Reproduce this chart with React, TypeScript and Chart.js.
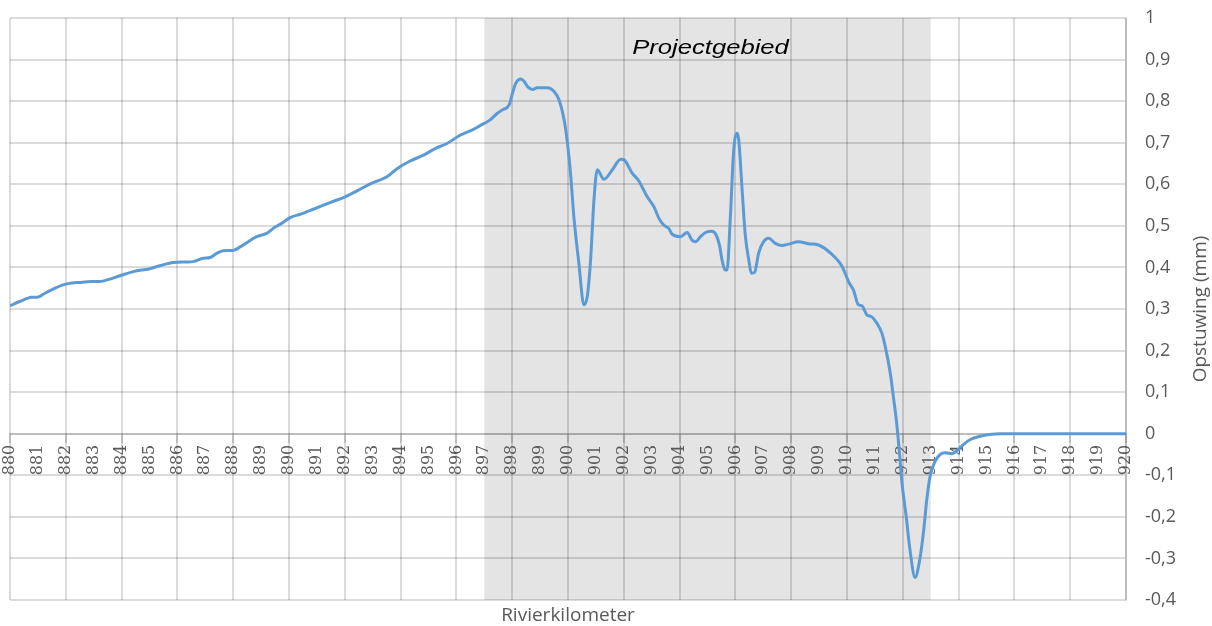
import React, { useEffect, useRef } from 'react';
import { Chart, registerables } from 'chart.js';

Chart.register(...registerables);

// River kilometre positions (x) and backwater effect in mm (y)
const KM = [
  880.00, 880.35, 880.77, 881.01, 881.25, 881.55, 881.85, 882.08, 882.50, 882.92,
  883.22, 883.58, 883.94, 884.42, 885.01, 885.37, 885.85, 886.33, 886.57, 886.93,
  887.17, 887.41, 887.64, 888.00, 888.24, 888.54, 888.84, 889.20, 889.50, 889.74,
  890.04, 890.40, 890.87, 891.47, 892.01, 892.49, 892.91, 893.51, 893.86, 894.34,
  894.82, 895.24, 895.66, 896.13, 896.61, 896.82, 897.21, 897.47, 897.65, 897.89,
  898.01, 898.13, 898.31, 898.43, 898.55, 898.73, 898.90, 899.26, 899.50, 899.68,
  899.86, 899.98, 900.10, 900.21, 900.39, 900.57, 900.69, 900.81, 900.93, 901.05,
  901.29, 901.59, 901.89, 902.00, 902.30, 902.54, 902.66, 902.84, 903.08, 903.26,
  903.43, 903.61, 903.73, 904.03, 904.27, 904.45, 904.57, 904.75, 904.93, 905.16,
  905.31, 905.44, 905.52, 905.64, 905.70, 905.82, 905.94, 906.06, 906.12, 906.24,
  906.36, 906.48, 906.57, 906.69, 906.83, 907.01, 907.19, 907.43, 907.67, 907.90,
  908.26, 908.62, 908.98, 909.28, 909.45, 909.63, 909.81, 909.94, 910.06, 910.23,
  910.41, 910.53, 910.71, 910.89, 911.07, 911.25, 911.37, 911.55, 911.66, 911.78,
  911.88, 911.97, 912.12, 912.27, 912.44, 912.59, 912.74, 912.86, 912.98, 913.16,
  913.34, 913.52, 913.76, 913.99, 914.17, 914.42, 914.78, 915.10, 915.50, 916.00,
  917.00, 918.00, 919.00, 920.00,
];

const OPSTUWING = [
  0.308, 0.318, 0.328, 0.329, 0.338, 0.348, 0.357, 0.361, 0.364, 0.366,
  0.366, 0.372, 0.380, 0.390, 0.397, 0.404, 0.412, 0.413, 0.414, 0.422,
  0.424, 0.434, 0.440, 0.441, 0.449, 0.462, 0.474, 0.482, 0.497, 0.506,
  0.520, 0.528, 0.540, 0.556, 0.570, 0.586, 0.601, 0.618, 0.637, 0.656,
  0.670, 0.686, 0.698, 0.718, 0.732, 0.740, 0.755, 0.771, 0.779, 0.791,
  0.819, 0.843, 0.853, 0.847, 0.835, 0.828, 0.832, 0.832, 0.823, 0.803,
  0.755, 0.699, 0.619, 0.522, 0.410, 0.310, 0.330, 0.418, 0.562, 0.635,
  0.612, 0.635, 0.660, 0.659, 0.627, 0.608, 0.593, 0.570, 0.546, 0.518,
  0.502, 0.494, 0.480, 0.474, 0.484, 0.465, 0.462, 0.474, 0.484, 0.487,
  0.478, 0.450, 0.418, 0.394, 0.394, 0.522, 0.683, 0.723, 0.707, 0.587,
  0.474, 0.418, 0.386, 0.388, 0.434, 0.462, 0.470, 0.458, 0.453, 0.456,
  0.462, 0.457, 0.454, 0.442, 0.432, 0.420, 0.404, 0.385, 0.365, 0.346,
  0.310, 0.308, 0.286, 0.281, 0.266, 0.242, 0.210, 0.146, 0.090, 0.026,
  -0.046, -0.118, -0.198, -0.286, -0.346, -0.310, -0.238, -0.158, -0.102, -0.066,
  -0.050, -0.046, -0.048, -0.038, -0.026, -0.014, -0.006, -0.002, 0.000, 0.000,
  0.000, 0.000, 0.000, 0.000,
];

const X_MIN = 880;
const X_MAX = 920;
const Y_MIN = -0.4;
const Y_MAX = 1;
const PROJECT_START = 897;
const PROJECT_END = 913;
const PROJECT_LABEL = 'Projectgebied';
const X_TITLE = 'Rivierkilometer';
const Y_TITLE = 'Opstuwing (mm)';

const GRID = 'rgba(0,0,0,0.14)';
const TEXT = '#595959';
const LINE = '#5b9bd5';
const SHADE = '#e4e4e4';

export default function App() {
  const ref = useRef<HTMLCanvasElement>(null);

  useEffect(() => {
    if (!ref.current) return;

    const shadePlugin = {
      id: 'projectShade',
      beforeDraw(chart: any) {
        const { ctx, chartArea, scales } = chart;
        const x0 = scales.x.getPixelForValue(PROJECT_START);
        const x1 = scales.x.getPixelForValue(PROJECT_END);
        ctx.save();
        ctx.fillStyle = SHADE;
        ctx.fillRect(x0, chartArea.top, x1 - x0, chartArea.bottom - chartArea.top);
        ctx.restore();
      },
    };

    const textPlugin = {
      id: 'extraText',
      afterDraw(chart: any) {
        const { ctx, chartArea, scales } = chart;
        const x0 = scales.x.getPixelForValue(PROJECT_START);
        const x1 = scales.x.getPixelForValue(PROJECT_END);
        ctx.save();
        ctx.translate((x0 + x1) / 2 + 3, chartArea.top + 36);
        ctx.scale(1.22, 1);
        ctx.font = 'italic 21px "Liberation Sans", Arial, sans-serif';
        ctx.fillStyle = '#000000';
        ctx.textAlign = 'center';
        ctx.textBaseline = 'alphabetic';
        ctx.fillText(PROJECT_LABEL, 0, 0);
        ctx.restore();

        ctx.save();
        ctx.translate(1201, (chartArea.top + chartArea.bottom) / 2);
        ctx.rotate(-Math.PI / 2);
        ctx.font = '19px "Open Sans", sans-serif';
        ctx.fillStyle = TEXT;
        ctx.textAlign = 'center';
        ctx.textBaseline = 'middle';
        ctx.fillText(Y_TITLE, 0, 0);
        ctx.restore();
      },
    };

    const chart = new Chart(ref.current, {
      type: 'line',
      data: {
        datasets: [
          {
            data: KM.map((k, i) => ({ x: k, y: OPSTUWING[i] })),
            xAxisID: 'x',
            yAxisID: 'y',
            borderColor: LINE,
            borderWidth: 3,
            pointRadius: 0,
            fill: false,
            cubicInterpolationMode: 'monotone',
          },
        ],
      },
      options: {
        animation: false,
        responsive: true,
        maintainAspectRatio: false,
        layout: { padding: { left: 10, top: 18, right: 0, bottom: 0 } },
        plugins: { legend: { display: false }, tooltip: { enabled: false } },
        scales: {
          x: {
            type: 'linear',
            position: { y: 0 } as any,
            min: X_MIN,
            max: X_MAX,
            ticks: {
              stepSize: 1,
              autoSkip: false,
              minRotation: 90,
              maxRotation: 90,
              color: TEXT,
              padding: 3,
              font: { family: '"DejaVu Serif", serif', size: 16 },
              callback: (v: any) => String(v),
            },
            grid: {
              color: (c: any) =>
                c.tick && Math.round(c.tick.value) % 2 === 0 ? GRID : 'rgba(0,0,0,0)',
              lineWidth: 2,
              tickLength: 8,
            },
            border: { display: true, color: GRID, width: 2 },
          },
          xt: {
            type: 'linear',
            axis: 'x',
            position: 'bottom',
            min: X_MIN,
            max: X_MAX,
            grid: { display: false, drawTicks: false },
            border: { display: false },
            ticks: { display: false },
            title: {
              display: true,
              text: X_TITLE,
              color: TEXT,
              font: { family: '"Open Sans", sans-serif', size: 19 },
              padding: { top: 0, bottom: -1 },
            },
            afterFit: (s: any) => {
              s.height = 26;
            },
          } as any,
          y: {
            type: 'linear',
            position: 'right',
            min: Y_MIN,
            max: Y_MAX,
            ticks: {
              stepSize: 0.1,
              color: TEXT,
              font: { family: '"Open Sans", sans-serif', size: 18 },
              padding: 0,
              callback: (v: any) => String(Math.round(Number(v) * 10) / 10).replace('.', ','),
            },
            grid: {
              color: GRID,
              lineWidth: 2,
              drawTicks: true,
              tickLength: 19,
              tickColor: 'rgba(0,0,0,0)',
            },
            border: { display: true, color: GRID, width: 2 },
            afterFit: (s: any) => {
              s.width = 86;
            },
          },
        },
      } as any,
      plugins: [shadePlugin, textPlugin],
    });

    return () => chart.destroy();
  }, []);

  return (
    <div style={{ position: 'fixed', left: 0, top: 0, width: 1212, height: 626, background: '#fff' }}>
      <canvas ref={ref} />
    </div>
  );
}
